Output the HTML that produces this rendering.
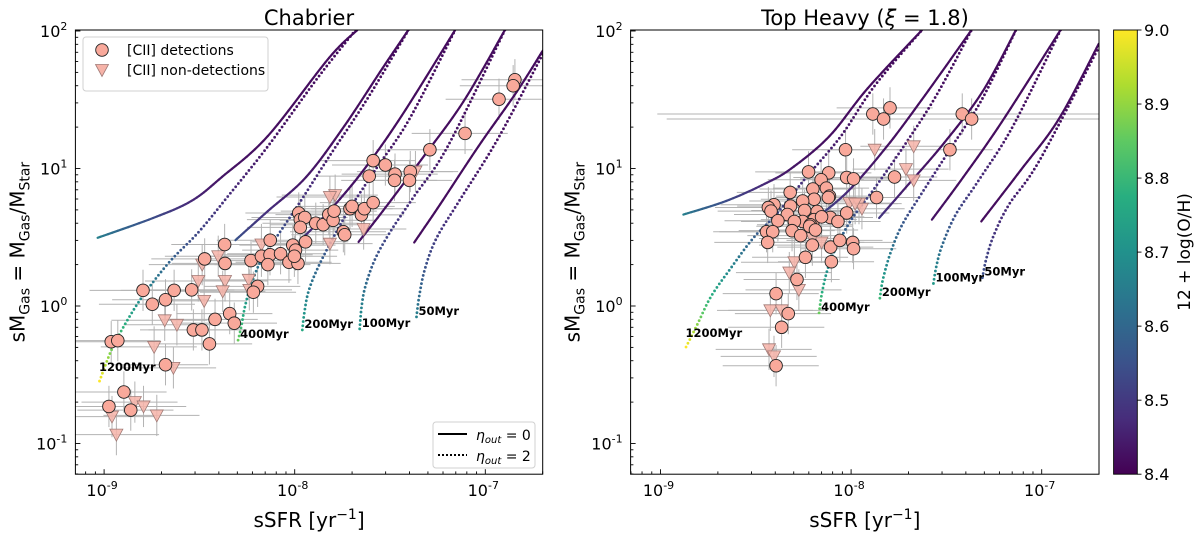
<!DOCTYPE html>
<html><head><meta charset="utf-8"><style>
body{margin:0;background:#fff;}
svg{display:block;font-family:"DejaVu Sans","Liberation Sans",sans-serif;}
</style></head><body>
<svg id="chart" width="1200" height="535" viewBox="0 0 1200 535" xmlns="http://www.w3.org/2000/svg">
<defs>
<clipPath id="clipL"><rect x="75.4" y="30" width="467.3" height="444.2"/></clipPath>
<clipPath id="clipR"><rect x="630.6" y="30" width="468.4" height="444.2"/></clipPath>
<linearGradient id="vir" x1="0" y1="1" x2="0" y2="0">
<stop offset="0" stop-color="#440154"/><stop offset="0.125" stop-color="#472d7b"/><stop offset="0.25" stop-color="#3b528b"/><stop offset="0.375" stop-color="#2c728e"/><stop offset="0.5" stop-color="#21918c"/><stop offset="0.625" stop-color="#28ae80"/><stop offset="0.75" stop-color="#5ec962"/><stop offset="0.875" stop-color="#addc30"/><stop offset="1" stop-color="#fde725"/>
</linearGradient>
</defs>
<g id="root"></g>
</svg>
<script>
// ---------- data (sSFR in units of 1e-9 /yr) ----------
const leftDetX=[1.09,1.18,1.60,1.79,2.10,2.33,2.88,3.37,4.29,4.31,5.90,6.39,6.07,6.69,7.44,7.42,7.23,8.43,9.33,9.77,10.1,10.4,9.96,10.5,10.7,11.3,10.7,11.4,12.9,14.1,15.1,15.9,16.1,18.0,18.3,19.5,20.0,22.4,23.2,25.8,24.6,25.8,29.9,33.6,33.4,40.4,40.0,51.2,78.3,118,143,140,2.10,2.94,3.26,3.82,4.56,4.82,3.57,1.27,1.06,1.38];
const leftDetY=[0.55,0.56,1.30,1.03,1.11,1.30,1.31,2.20,2.80,2.04,2.14,1.39,1.26,2.30,3.01,2.36,2.0,2.4,2.08,2.77,2.55,2.04,2.3,4.75,4.25,4.4,3.73,2.93,4.0,3.9,4.62,4.2,4.9,3.47,3.3,5.1,5.3,4.6,5.1,5.65,8.8,11.4,10.6,9.1,8.2,9.5,8.2,13.7,18.0,31.9,44.2,40,0.374,0.67,0.67,0.80,0.88,0.75,0.53,0.237,0.186,0.175];
const leftNonX=[16.3,15.3,23,15.3,6.69,3.97,3.27,3.12,4.31,4.19,3.35,5.74,5.78,2.08,2.41,1.83,2.31,1.45,1.61,1.89,1.10,1.16,43];
const leftNonY=[6.4,6.2,3.63,2.84,2.8,2.3,2.0,1.52,1.52,1.28,1.09,1.55,1.31,0.787,0.73,0.504,0.355,0.20,0.186,0.16,0.157,0.116,9.5];
const rightDetX=[13.0,16.0,14.8,38.3,42.9,33.0,9.35,16.9,9.48,10.3,13.6,5.98,7.63,6.96,4.79,6.3,7.42,7.7,7.6,6.4,5.57,4.81,3.94,3.68,3.8,5.7,6.64,4.63,5.57,6.4,7.78,7.0,9.48,4.13,5.04,6.11,6.06,6.5,8.53,3.6,3.88,4.9,5.44,6.26,7.81,8.73,10.2,10.3,3.65,5.76,7.88,5.2,4.04,4.68,4.32,4.04];
const rightDetY=[24.9,27.6,22.9,24.9,22.9,13.7,13.7,8.67,8.6,8.4,6.15,9.45,9.3,8.28,6.7,7.1,7.2,6.3,6.15,5.98,5.8,5.33,5.45,5.2,4.9,4.95,4.87,4.63,4.12,4.25,4.4,4.45,4.75,4.17,4.12,3.9,3.8,3.57,4.12,3.47,3.47,3.53,3.25,2.77,2.68,3.0,2.9,2.61,2.9,2.26,2.1,1.56,1.23,0.88,0.70,0.368];
const rightNonX=[13.3,21.3,19.4,21.3,9.8,11.0,11.4,10.5,7.0,6.26,5.04,4.74,5.32,3.77,4.32,3.71,3.94];
const rightNonY=[13.7,14.5,9.9,8.2,5.6,5.55,5.1,5.55,2.9,3.1,2.08,1.75,1.31,0.93,0.93,0.484,0.43];
const xErrDex=0.28, yErrDex=0.15;
const rightWideErr=[3,4]; // indices with very wide sSFR errors
const ageLabels=["1200Myr","400Myr","200Myr","100Myr","50Myr"];
const xTicks=[-9,-8,-7]; const yTicks=[-1,0,1,2];
const cbTicks=[8.4,8.5,8.6,8.7,8.8,8.9,9.0];
// model tracks: [log sSFR, log sM]
const leftSolid=[
[[-9.034,0.496],[-8.743,0.640],[-8.542,0.764],[-8.382,0.938],[-8.141,1.236],[-7.819,1.806],[-7.669,2.01]],
[[-8.311,0.479],[-8.141,0.690],[-7.94,0.938],[-7.739,1.31],[-7.538,1.732],[-7.402,2.01]],
[[-7.970,0.479],[-7.819,0.69],[-7.639,0.988],[-7.438,1.385],[-7.157,2.01]],
[[-7.665,0.466],[-7.538,0.69],[-7.337,1.062],[-7.116,1.484],[-6.896,2.01]],
[[-7.373,0.462],[-7.237,0.739],[-7.036,1.161],[-6.835,1.558],[-6.699,1.856]]];
const leftDotted=[
[[-9.024,-0.546],[-8.964,-0.328],[-8.904,-0.166],[-8.823,0.020],[-8.743,0.174],[-8.643,0.342],[-8.502,0.541],[-8.341,0.814],[-8.141,1.161],[-7.880,1.658],[-7.679,2.01]],
[[-8.297,-0.248],[-8.281,-0.154],[-8.261,-0.005],[-8.231,0.144],[-8.181,0.318],[-8.100,0.491],[-7.980,0.739],[-7.819,1.087],[-7.618,1.509],[-7.402,2.01]],
[[-7.960,-0.174],[-7.950,-0.055],[-7.930,0.094],[-7.890,0.243],[-7.819,0.442],[-7.719,0.690],[-7.578,0.988],[-7.398,1.36],[-7.157,2.01]],
[[-7.659,-0.166],[-7.649,-0.005],[-7.629,0.144],[-7.578,0.342],[-7.498,0.541],[-7.378,0.789],[-7.197,1.161],[-6.896,2.01]],
[[-7.361,-0.079],[-7.347,0.069],[-7.317,0.268],[-7.257,0.491],[-7.137,0.764],[-6.936,1.211],[-6.699,1.831]]];
const rightSolid=[
[[-8.880,0.665],[-8.655,0.764],[-8.454,0.888],[-8.314,1.0],[-8.113,1.236],[-7.913,1.583],[-7.626,2.01]],
[[-8.178,0.645],[-8.013,0.839],[-7.812,1.161],[-7.612,1.533],[-7.367,2.01]],
[[-7.853,0.640],[-7.712,0.864],[-7.512,1.186],[-7.311,1.558],[-7.134,2.01]],
[[-7.576,0.628],[-7.411,0.938],[-7.211,1.335],[-6.900,2.01]],
[[-7.317,0.615],[-7.110,0.988],[-6.910,1.36],[-6.701,1.906]]];
const rightDotted=[
[[-8.866,-0.298],[-8.805,-0.129],[-8.735,0.069],[-8.635,0.268],[-8.515,0.491],[-8.394,0.665],[-8.234,0.938],[-8.053,1.236],[-7.873,1.608],[-7.626,2.01]],
[[-8.168,-0.05],[-8.153,0.094],[-8.123,0.268],[-8.073,0.442],[-7.993,0.640],[-7.873,0.864],[-7.712,1.186],[-7.552,1.533],[-7.367,2.01]],
[[-7.849,0.057],[-7.833,0.194],[-7.792,0.392],[-7.732,0.591],[-7.632,0.814],[-7.471,1.161],[-7.311,1.509],[-7.134,2.01]],
[[-7.568,0.164],[-7.552,0.293],[-7.522,0.442],[-7.451,0.665],[-7.331,0.913],[-7.150,1.31],[-6.900,2.01]],
[[-7.311,0.206],[-7.291,0.342],[-7.251,0.516],[-7.171,0.739],[-7.010,1.062],[-6.701,1.881]]];
const leftSolidZ=[8.66,8.56,8.5,8.43,8.42], leftDotZ=[9.0,8.86,8.76,8.72,8.66];
const rightSolidZ=[8.66,8.56,8.5,8.43,8.42], rightDotZ=[9.0,8.86,8.8,8.72,8.55];

// ---------- helpers ----------
const NS="http://www.w3.org/2000/svg";
const root=document.getElementById('root');
function mk(tag,attrs,parent){const e=document.createElementNS(NS,tag);for(const k in attrs)e.setAttribute(k,attrs[k]);(parent||root).appendChild(e);return e;}
const vstops=[[68,1,84],[71,45,123],[59,82,139],[44,114,142],[33,145,140],[40,174,128],[94,201,98],[173,220,48],[253,231,37]];
function viridis(z){let t=(z-8.4)/0.6;t=Math.max(0,Math.min(1,t))*8;const i=Math.min(7,Math.floor(t)),f=t-i;const a=vstops[i],b=vstops[i+1];return `rgb(${a.map((v,k)=>Math.round(v+(b[k]-v)*f)).join(',')})`;}
function smooth(pts){const out=[];const n=pts.length;for(let i=0;i<n-1;i++){const p0=pts[Math.max(0,i-1)],p1=pts[i],p2=pts[i+1],p3=pts[Math.min(n-1,i+2)];for(let k=0;k<12;k++){const t=k/12,t2=t*t,t3=t2*t;out.push([0,1].map(j=>0.5*((2*p1[j])+(-p0[j]+p2[j])*t+(2*p0[j]-5*p1[j]+4*p2[j]-p3[j])*t2+(-p0[j]+3*p1[j]-3*p2[j]+p3[j])*t3)));}}out.push(pts[n-1]);return out;}
const Y=l=>306-l*137.5;
const yTop=30,yBot=474.2;
function panel(px0,x10m9,xRight,det,detY,non,nonY,solid,dotted,sZ,dZ,clip,wide,pname){
  const X=l=>x10m9+(l+9)*190.6;
  const g=mk('g',{'clip-path':`url(#${clip})`});
  
  
  const eg=mk('g',{stroke:'#9a9a9a','stroke-width':1,opacity:0.75},g);
  
  
  const allX=det.concat(non),allY=detY.concat(nonY);
  allX.forEach((v,i)=>{const lx=Math.log10(v*1e-9),ly=Math.log10(allY[i]);const xe=wide.includes(i)?1.6:xErrDex;
    mk('line',{x1:X(lx-xe),x2:X(lx+xe*0.8),y1:Y(ly),y2:Y(ly)},eg);
    mk('line',{x1:X(lx),x2:X(lx),y1:Y(ly-yErrDex),y2:Y(ly+yErrDex)},eg);});
  solid.forEach((c,ci)=>{const pts=smooth(c.map(p=>[X(p[0]),Y(p[1])]));for(let i=0;i<pts.length-1;i++){const t=i/(pts.length-1);const z=8.42+(sZ[ci]-8.42)*Math.pow(1-t,4);
    const ln=mk('line',{x1:pts[i][0],y1:pts[i][1],x2:pts[i+1][0],y2:pts[i+1][1],stroke:viridis(z),'stroke-width':2.2,'stroke-linecap':'round'},g);
    
    }});
  dotted.forEach((c,ci)=>{const pts=smooth(c.map(p=>[X(p[0]),Y(p[1])]));let L=0;const seg=[];for(let i=0;i<pts.length-1;i++){const d=Math.hypot(pts[i+1][0]-pts[i][0],pts[i+1][1]-pts[i][1]);seg.push(d);L+=d;}
    let acc=0,next=0;for(let i=0;i<pts.length-1;i++){while(next<=acc+seg[i]){const f=seg[i]?(next-acc)/seg[i]:0;const x=pts[i][0]+(pts[i+1][0]-pts[i][0])*f,y=pts[i][1]+(pts[i+1][1]-pts[i][1])*f;const t=next/L;const z=8.42+(dZ[ci]-8.42)*Math.pow(1-t,3.2);
      const d=mk('circle',{cx:x,cy:y,r:1.4,fill:viridis(z)},g);
      
      next+=4.2;}acc+=seg[i];}});
  non.forEach((v,i)=>{const x=X(Math.log10(v*1e-9)),y=Y(Math.log10(nonY[i]));
    const t=mk('polygon',{points:`${x-6.5},${y-5.5} ${x+6.5},${y-5.5} ${x},${y+6.5}`,fill:'#f6b3a8','fill-opacity':0.85,stroke:'#a07a76','stroke-width':0.8},g);
    
    });
  det.forEach((v,i)=>{const x=X(Math.log10(v*1e-9)),y=Y(Math.log10(detY[i]));
    const c=mk('circle',{cx:x,cy:y,r:6.3,fill:'#f9a99b',stroke:'#222','stroke-width':0.9},g);
    
    });
  dotted.forEach((c,ci)=>{const p=c[0];const tx=mk('text',{x:X(p[0])+(ci==0?-0.5:2),y:Y(p[1])+(ci==0?-10:-2),'font-size':11.5,'font-weight':'bold',fill:'#000'},root);tx.textContent=ageLabels[ci];
    
    });
  const fr=mk('rect',{x:px0,y:yTop,width:xRight-px0,height:yBot-yTop,fill:'none',stroke:'#000','stroke-width':1});
  
  
  const tg=mk('g',{stroke:'#000','stroke-width':0.9});
  
  
  for(let d=-10;d<=-6;d++)for(let m=1;m<10;m++){const l=d+Math.log10(m);const x=X(l);if(x<px0-0.1||x>xRight+0.1)continue;const len=m==1?5:2.8;mk('line',{x1:x,x2:x,y1:yBot,y2:yBot-len},tg);}
  for(let d=-2;d<=2;d++)for(let m=1;m<10;m++){const l=d+Math.log10(m);const y=Y(l);if(y<yTop-0.1||y>yBot+0.1)continue;const len=m==1?5:2.8;mk('line',{x1:px0,x2:px0+len,y1:y,y2:y},tg);}
  xTicks.forEach(t=>{const tx=mk('text',{x:X(t)-2,y:yBot+22,'font-size':16,'text-anchor':'middle'});tx.innerHTML=`10<tspan dy="-7" font-size="11">${t}</tspan>`;
    });
  yTicks.forEach(t=>{const tx=mk('text',{x:px0-8,y:Y(t)+6,'font-size':16,'text-anchor':'end'});tx.innerHTML=`10<tspan dy="-7" font-size="11">${t}</tspan>`;
    });
  const xl=mk('text',{x:(px0+xRight)/2,y:527,'font-size':20,'text-anchor':'middle'});xl.innerHTML='sSFR [yr<tspan dy="-8" font-size="14">−1</tspan><tspan dy="8">]</tspan>';
  
  const yl=mk('text',{transform:`translate(${px0-51},${(yTop+yBot)/2}) rotate(-90)`,'font-size':20,'text-anchor':'middle'});
  yl.innerHTML='sM<tspan dy="5" font-size="14">Gas</tspan><tspan dy="-5"> = M</tspan><tspan dy="5" font-size="14">Gas</tspan><tspan dy="-5">/M</tspan><tspan dy="5" font-size="14">Star</tspan>';
  
}
panel(75.4,104.1,542.7,leftDetX,leftDetY,leftNonX,leftNonY,leftSolid,leftDotted,leftSolidZ,leftDotZ,'clipL',[],'chabrier');
panel(630.6,660.5,1099,rightDetX,rightDetY,rightNonX,rightNonY,rightSolid,rightDotted,rightSolidZ,rightDotZ,'clipR',rightWideErr,'top-heavy');
</script>
<script>
const svg=document.getElementById('root');
function add(tag,a,txt){const e=document.createElementNS("http://www.w3.org/2000/svg",tag);for(const k in a)e.setAttribute(k,a[k]);if(txt!==undefined)e.innerHTML=txt;svg.appendChild(e);return e;}
let e;
e=add('text',{x:309,y:25,'font-size':21,'text-anchor':'middle'},'Chabrier');

e=add('text',{x:865,y:25,'font-size':21,'text-anchor':'middle'},'Top Heavy (<tspan font-style="italic">ξ</tspan> = 1.8)');

e=add('rect',{x:83,y:37,width:185,height:54,rx:3,fill:'#fff','fill-opacity':0.85,stroke:'#d0d0d0'});

e=add('circle',{cx:102,cy:50,r:6.3,fill:'#f9a99b',stroke:'#222','stroke-width':0.9});

e=add('polygon',{points:'95.5,64.5 108.5,64.5 102,76.5',fill:'#f6b3a8',stroke:'#a07a76','stroke-width':0.8});

e=add('text',{x:127,y:55,'font-size':14},'[CII] detections');

e=add('text',{x:127,y:75,'font-size':14},'[CII] non-detections');

e=add('rect',{x:433,y:422,width:102,height:46,rx:3,fill:'#fff','fill-opacity':0.85,stroke:'#d0d0d0'});

e=add('line',{x1:438,x2:467,y1:434,y2:434,stroke:'#000','stroke-width':2});

e=add('line',{x1:438,x2:467,y1:455,y2:455,stroke:'#000','stroke-width':2,'stroke-dasharray':'2 2'});

e=add('text',{x:476,y:440,'font-size':14},'<tspan font-style="italic">η</tspan><tspan font-size="10" dy="3" font-style="italic">out</tspan><tspan dy="-3"> = 0</tspan>');

e=add('text',{x:476,y:461,'font-size':14},'<tspan font-style="italic">η</tspan><tspan font-size="10" dy="3" font-style="italic">out</tspan><tspan dy="-3"> = 2</tspan>');

e=add('rect',{x:1113.6,y:30,width:23.7,height:444.2,fill:'url(#vir)',stroke:'#000','stroke-width':0.9});

cbTicks.forEach(t=>{const y=474.2-(t-8.4)/0.6*444.2;
  let l=add('line',{x1:1137.3,x2:1141.5,y1:y,y2:y,stroke:'#000','stroke-width':0.9});
  
  let tx=add('text',{x:1144,y:y+6,'font-size':16},t.toFixed(1));
  });
e=add('text',{transform:'translate(1190,252) rotate(-90)','font-size':17,'text-anchor':'middle'},'12 + log(O/H)');

</script>
</body></html>
